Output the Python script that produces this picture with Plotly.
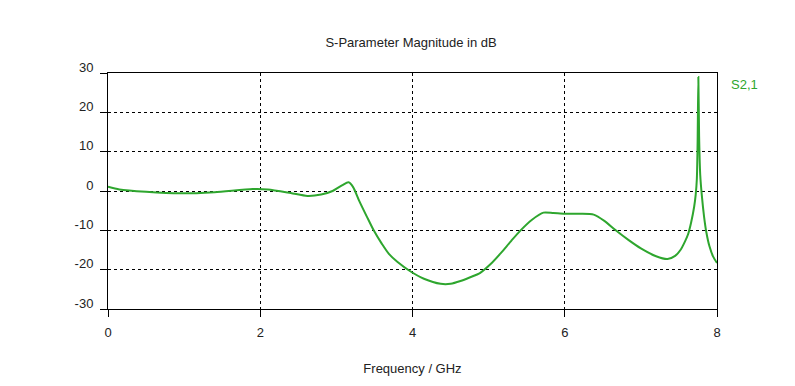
import plotly.graph_objects as go

freq_ghz = [0.00, 0.15, 0.50, 0.95, 1.40, 1.90, 2.10, 2.40, 2.62, 2.80, 2.95, 3.08, 3.16, 3.22,
            3.30, 3.40, 3.49, 3.60, 3.69, 3.80, 3.97, 4.15, 4.37, 4.50, 4.63, 4.75, 4.89, 5.03,
            5.16, 5.30, 5.42, 5.57, 5.72, 5.85, 6.00, 6.20, 6.38, 6.52, 6.67, 6.84, 7.00, 7.20,
            7.35, 7.45, 7.52, 7.58, 7.62, 7.66, 7.70, 7.72, 7.735, 7.745, 7.755, 7.765, 7.78,
            7.80, 7.83, 7.86, 7.90, 7.95, 8.00]
s21_db = [1.1, 0.4, -0.2, -0.6, -0.3, 0.5, 0.4, -0.5, -1.25, -0.9, 0.0, 1.5, 2.2, 1.0,
          -2.5, -6.5, -10.0, -13.5, -16.0, -18.0, -20.4, -22.3, -23.6, -23.6, -22.9, -22.0, -20.8, -18.5,
          -15.8, -12.6, -10.0, -7.3, -5.5, -5.6, -5.8, -5.8, -6.0, -7.6, -10.0, -12.5, -14.6, -16.6,
          -17.3, -16.5, -15.0, -12.8, -11.0, -8.0, -4.0, -1.0, 3.0, 12.0, 29.0, 14.0, 4.0,
          -1.0, -6.5, -10.5, -14.0, -16.7, -18.3]

x_ticks = [0, 2, 4, 6, 8]
y_ticks = [-30, -20, -10, 0, 10, 20, 30]
y_tick_labels = ["-30", "-20", "-10", "0", "10", "20", "30"]
series_name = "S2,1"
title_text = "S-Parameter Magnitude in dB"
x_title = "Frequency / GHz"

green = "#2ea62e"
font = dict(family="Liberation Sans, DejaVu Sans, sans-serif", size=13, color="#222222")

fig = go.Figure()
fig.add_trace(go.Scatter(x=freq_ghz, y=s21_db, mode="lines", name=series_name,
                         line=dict(color=green, width=2, shape="spline", smoothing=0.7),
                         showlegend=False))

axis_common = dict(showline=True, linecolor="black", linewidth=1, mirror=True,
                   ticks="outside", ticklen=7, tickcolor="black",
                   showgrid=True, gridcolor="black", gridwidth=1, griddash="3px,3px",
                   zeroline=False, tickfont=font)

fig.update_xaxes(range=[0, 8], tickvals=x_ticks, ticklabelstandoff=4,
                 title=dict(text=x_title, font=font, standoff=25), **axis_common)
fig.update_yaxes(range=[-30, 30], tickvals=y_ticks, ticktext=y_tick_labels,
                 ticklabelshift=-6, ticklabelstandoff=4, **axis_common)

fig.add_annotation(text=series_name, x=1, xref="paper", y=1, yref="paper",
                   xanchor="left", yanchor="top", xshift=12, yshift=-2,
                   showarrow=False, font=dict(family=font["family"], size=13, color=green))

fig.update_layout(width=795, height=386,
                  margin=dict(l=108, r=78, t=73, b=73),
                  paper_bgcolor="white", plot_bgcolor="white",
                  title=dict(text=title_text, x=0.517, xanchor="center", y=0.89, yanchor="middle", font=font),
                  font=font)

fig.write_html("out.html")
